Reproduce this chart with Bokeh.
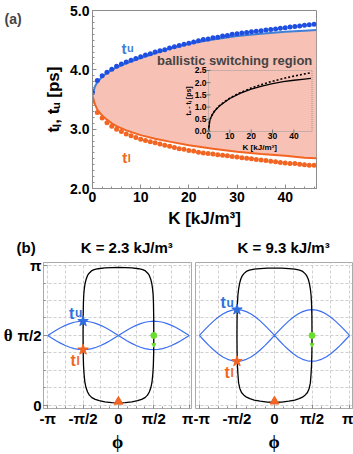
import math
from bokeh.plotting import figure
from bokeh.models import Range1d, FixedTicker, Label, Title
from bokeh.layouts import column, row
from bokeh.embed import file_html
from bokeh.resources import INLINE

PI = math.pi
FONT = "Liberation Sans"
SERIF = "Liberation Serif"

# ---------------- (a) data ----------------
K_line = [0, 0.5, 1, 2, 3, 4, 5, 7, 10, 13, 16, 20, 25, 30, 35, 40, 44, 46.5]
tu_line = [3.57, 3.72, 3.79, 3.88, 3.95, 4.00, 4.04, 4.11, 4.20, 4.28, 4.36, 4.44, 4.51, 4.57, 4.61, 4.64, 4.66, 4.67]
tl_line = [3.56, 3.42, 3.33, 3.23, 3.16, 3.10, 3.05, 2.98, 2.90, 2.84, 2.79, 2.73, 2.67, 2.62, 2.58, 2.55, 2.52, 2.51]

K_dots = list(range(47))
tu_dots = [3.62, 3.82, 3.90, 3.96, 4.01, 4.06, 4.10, 4.13, 4.16, 4.19, 4.22, 4.25, 4.27, 4.30, 4.32, 4.34,
           4.37, 4.39, 4.41, 4.43, 4.45, 4.47, 4.49, 4.51, 4.52, 4.54, 4.55, 4.57, 4.58, 4.60, 4.61, 4.62,
           4.63, 4.64, 4.65, 4.66, 4.67, 4.68, 4.69, 4.70, 4.71, 4.72, 4.73, 4.74, 4.75, 4.76, 4.77]
tl_dots = [3.47, 3.28, 3.19, 3.11, 3.05, 3.00, 2.96, 2.92, 2.89, 2.86, 2.83, 2.81, 2.79, 2.77, 2.75, 2.73,
           2.71, 2.69, 2.67, 2.66, 2.64, 2.63, 2.61, 2.60, 2.59, 2.58, 2.57, 2.56, 2.55, 2.54, 2.53, 2.52,
           2.51, 2.50, 2.49, 2.48, 2.47, 2.46, 2.45, 2.44, 2.43, 2.42, 2.42, 2.41, 2.40, 2.39, 2.39]

K_inset = [0, 0.5, 1, 2, 3, 5, 7, 10, 15, 20, 25, 30, 35, 40, 45, 48]
diff_line = [0, 0.40, 0.55, 0.72, 0.85, 1.03, 1.17, 1.35, 1.57, 1.74, 1.86, 1.96, 2.04, 2.10, 2.15, 2.18]
diff_dots = [0, 0.40, 0.55, 0.73, 0.86, 1.05, 1.19, 1.37, 1.60, 1.78, 1.93, 2.06, 2.17, 2.27, 2.36, 2.41]

a_xticks = [0, 10, 20, 30, 40]
a_yticks = [2, 3, 4, 5]
a_ytick_labels = ["2.0", "3.0", "4.0", "5.0"]
inset_xticks = [0, 10, 20, 30, 40]
inset_yticks = [0, 0.5, 1.0, 1.5, 2.0, 2.5]
inset_ytick_labels = ["0.0", "0.5", "1.0", "1.5", "2.0", "2.5"]

# ---------------- (b) data ----------------
phi_lens = [-3.1416, -2.9452, -2.7489, -2.5525, -2.3562, -2.1598, -1.9635, -1.7671, -1.5708, -1.3744, -1.1781,
            -0.9817, -0.7854, -0.5890, -0.3927, -0.1963, 0.0, 0.1963, 0.3927, 0.5890, 0.7854, 0.9817, 1.1781,
            1.3744, 1.5708, 1.7671, 1.9635, 2.1598, 2.3562, 2.5525, 2.7489, 2.9452, 3.1416]
lensL_up = [1.571, 1.633, 1.694, 1.749, 1.797, 1.837, 1.867, 1.885, 1.891, 1.885, 1.867, 1.837, 1.797, 1.749, 1.694,
            1.633, 1.571, 1.633, 1.694, 1.749, 1.797, 1.837, 1.867, 1.885, 1.891, 1.885, 1.867, 1.837, 1.797, 1.749,
            1.694, 1.633, 1.571]
lensL_lo = [1.571, 1.509, 1.448, 1.393, 1.345, 1.305, 1.275, 1.257, 1.251, 1.257, 1.275, 1.305, 1.345, 1.393, 1.448,
            1.509, 1.571, 1.509, 1.448, 1.393, 1.345, 1.305, 1.275, 1.257, 1.251, 1.257, 1.275, 1.305, 1.345, 1.393,
            1.448, 1.509, 1.571]
lensR_up = [1.571, 1.684, 1.793, 1.893, 1.981, 2.053, 2.107, 2.140, 2.151, 2.140, 2.107, 2.053, 1.981, 1.893, 1.793,
            1.684, 1.571, 1.684, 1.793, 1.893, 1.981, 2.053, 2.107, 2.140, 2.151, 2.140, 2.107, 2.053, 1.981, 1.893,
            1.793, 1.684, 1.571]
lensR_lo = [1.571, 1.458, 1.349, 1.249, 1.161, 1.089, 1.035, 1.002, 0.991, 1.002, 1.035, 1.089, 1.161, 1.249, 1.349,
            1.458, 1.571, 1.458, 1.349, 1.249, 1.161, 1.089, 1.035, 1.002, 0.991, 1.002, 1.035, 1.089, 1.161, 1.249,
            1.349, 1.458, 1.571]

loopL_phi = [-1.57, -1.565, -1.555, -1.54, -1.515, -1.48, -1.43, -1.37, -1.30, -1.20, -1.08, -0.90, -0.60, -0.30, 0.0,
             0.30, 0.60, 0.90, 1.08, 1.20, 1.30, 1.37, 1.43, 1.48, 1.515, 1.54, 1.555, 1.565, 1.57,
             1.565, 1.55, 1.525, 1.49, 1.44, 1.37, 1.29, 1.18, 1.03, 0.85, 0.60, 0.30, 0.0,
             -0.30, -0.60, -0.85, -1.03, -1.18, -1.29, -1.37, -1.44, -1.49, -1.525, -1.55, -1.565, -1.57]
loopL_theta = [1.57, 2.0, 2.3, 2.48, 2.62, 2.74, 2.84, 2.92, 2.97, 3.02, 3.05, 3.07, 3.088, 3.097, 3.10,
               3.097, 3.088, 3.07, 3.05, 3.02, 2.97, 2.92, 2.84, 2.74, 2.62, 2.48, 2.3, 2.0, 1.57,
               1.2, 0.9, 0.7, 0.52, 0.40, 0.30, 0.23, 0.175, 0.135, 0.105, 0.08, 0.06, 0.055,
               0.06, 0.08, 0.105, 0.135, 0.175, 0.23, 0.30, 0.40, 0.52, 0.7, 0.9, 1.2, 1.57]
loopR_phi = [-1.57, -1.565, -1.55, -1.53, -1.50, -1.46, -1.41, -1.35, -1.28, -1.18, -1.05, -0.85, -0.60, -0.30, 0.0,
             0.30, 0.60, 0.85, 1.05, 1.18, 1.28, 1.35, 1.41, 1.46, 1.50, 1.53, 1.55, 1.565, 1.57,
             1.565, 1.55, 1.53, 1.50, 1.45, 1.38, 1.29, 1.17, 1.03, 0.85, 0.60, 0.30, 0.0,
             -0.30, -0.60, -0.85, -1.03, -1.17, -1.29, -1.38, -1.45, -1.50, -1.53, -1.55, -1.565, -1.57]
loopR_theta = [1.57, 2.0, 2.3, 2.48, 2.62, 2.74, 2.84, 2.91, 2.96, 3.01, 3.04, 3.06, 3.073, 3.082, 3.085,
               3.082, 3.073, 3.06, 3.04, 3.01, 2.96, 2.91, 2.84, 2.74, 2.62, 2.48, 2.3, 2.0, 1.57,
               1.2, 0.9, 0.7, 0.50, 0.38, 0.29, 0.235, 0.185, 0.15, 0.12, 0.095, 0.075, 0.07,
               0.075, 0.095, 0.12, 0.15, 0.185, 0.235, 0.29, 0.38, 0.50, 0.7, 0.9, 1.2, 1.57]

starU = {"L": (-1.5708, 1.891), "R": (-1.5708, 2.151)}
starL = {"L": (-1.5708, 1.251), "R": (-1.5708, 0.991)}
triO = {"L": (0.0, 0.085), "R": (0.0, 0.09)}
greenC = (1.5708, 1.5708)
greenT = (1.5708, 1.36)

phi_ticks = [-PI, -PI / 2, 0, PI / 2, PI]
phi_tick_labels = ["-π", "-π/2", "0", "π/2", "π"]
theta_ticks = [0, PI / 2, PI]
theta_tick_labels = ["0", "π/2", "π"]
phi_grid = [k * PI / 4 for k in range(-4, 5)]
theta_grid = [k * PI / 8 for k in range(0, 9)]
phi_minor = [k * PI / 8 for k in range(-8, 9)]
theta_minor = [k * PI / 8 for k in range(0, 9)]

BLUE_DOT = "#1f4fe0"
BLUE_LINE = "#3f7fd8"
ORANGE = "#f26522"
SALMON = "#f8c1b5"
BLUE_LENS = "#3b6ff0"
GREEN = "#6ade2e"
FRAME = "#8c8c8c"


def style_axis(ax, size="14px"):
    ax.axis_line_color = FRAME
    ax.major_tick_line_color = FRAME
    ax.minor_tick_line_color = FRAME
    ax.major_tick_in = 4
    ax.major_tick_out = 0
    ax.minor_tick_in = 2
    ax.minor_tick_out = 0
    ax.major_label_text_font = FONT
    ax.major_label_text_font_style = "bold"
    ax.major_label_text_font_size = size
    ax.major_label_text_color = "black"


def sub_label(p, x, y, sub, color, size=15, subsize=11, tw=5.5):
    p.add_layout(Label(x=x, y=y, text="t", text_color=color, text_font=FONT, text_font_style="bold",
                       text_font_size=f"{size}px", text_baseline="alphabetic"))
    p.add_layout(Label(x=x, y=y, x_offset=tw, text=sub, text_color=color, text_font=FONT,
                       text_font_style="bold", text_font_size=f"{subsize}px", text_baseline="alphabetic"))


# ---------------- "(a)" tag ----------------
ptag = figure(width=28, height=230, x_range=Range1d(0, 1), y_range=Range1d(0, 1),
              output_backend="svg", toolbar_location=None, x_axis_location=None, y_axis_location=None,
              min_border=0)
ptag.outline_line_color = None
ptag.grid.visible = False
ptag.add_layout(Label(x=0.143, y=0.952, text="(a)", text_baseline="middle",
                      text_font=FONT, text_font_style="bold", text_font_size="14px"))

# ---------------- panel (a) ----------------
pa = figure(width=325, height=230, x_range=Range1d(0, 46.5), y_range=Range1d(2, 5),
            output_backend="svg", toolbar_location=None,
            min_border_left=64, min_border_right=37, min_border_top=10, min_border_bottom=42)
pa.grid.visible = False
pa.outline_line_color = FRAME

pa.varea(x=K_line, y1=tl_line, y2=tu_line, fill_color=SALMON)

ins = pa.subplot(x_source=Range1d(0, 48.5), y_source=Range1d(0, 2.5),
                 x_target=Range1d(24.08, 45.57), y_target=Range1d(2.961, 3.989))
ins.quad(left=[0], right=[48.5], bottom=[0], top=[2.5], fill_color=None, line_color="#999999",
         line_dash="1 1", line_width=1)
ins.line(x=K_inset, y=diff_line, line_color="black", line_width=1.3)
ins.line(x=K_inset, y=diff_dots, line_color="black", line_width=1.6, line_dash="2 2")
ins.scatter(x=inset_xticks, y=[0] * len(inset_xticks), marker="dash", angle=PI / 2, size=4,
            line_color="#777777")
ins.scatter(x=[0] * len(inset_yticks), y=inset_yticks, marker="dash", size=4, line_color="#777777")
ins.text(x=inset_xticks, y=[0] * len(inset_xticks), text=[str(v) for v in inset_xticks], y_offset=2,
         text_align="center", text_baseline="top", text_font_size="8.5px", text_font_style="bold",
         text_color="black", text_font={"value": FONT})
ins.text(x=[0] * len(inset_yticks), y=inset_yticks, text=inset_ytick_labels, x_offset=-2,
         text_align="right", text_baseline="middle", text_font_size="8.5px", text_font_style="bold",
         text_color="black", text_font={"value": FONT})
ins.text(x=[24], y=[0], text=["K [kJ/m³]"], y_offset=12, text_align="center", text_baseline="top",
         text_font_size="8px", text_font_style="bold", text_color="black", text_font={"value": FONT})
ins.text(x=[0], y=[1.25], text=["tᵤ - tₗ [ps]"], x_offset=-20, angle=PI / 2, text_align="center",
         text_baseline="middle", text_font_size="7px", text_font_style="bold", text_color="black",
         text_font={"value": FONT})

pa.line(x=K_line, y=tu_line, line_color=BLUE_LINE, line_width=2)
pa.line(x=K_line, y=tl_line, line_color=ORANGE, line_width=2)
pa.scatter(x=K_dots, y=tu_dots, size=5, fill_color=BLUE_DOT, line_color=None)
pa.scatter(x=K_dots, y=tl_dots, size=5, fill_color=ORANGE, line_color=None)

pa.add_layout(Label(x=29.5, y=4.157, text="ballistic switching region", text_align="center",
                    text_baseline="middle", text_font=FONT, text_font_style="bold", text_font_size="13px"))
sub_label(pa, 6.02, 4.36, "u", BLUE_LINE)
sub_label(pa, 6.17, 2.52, "l", ORANGE)

a_xminor = list(range(0, 48, 2))
a_yminor = [2 + k / 10 for k in range(31)]
pa.xaxis.ticker = FixedTicker(ticks=a_xticks, minor_ticks=a_xminor)
pa.yaxis.ticker = FixedTicker(ticks=a_yticks, minor_ticks=a_yminor)
pa.yaxis.major_label_overrides = dict(zip(a_yticks, a_ytick_labels))
for ax in (pa.xaxis[0], pa.yaxis[0]):
    style_axis(ax)
    ax.major_label_standoff = 3
    ax.axis_label_text_font = FONT
    ax.axis_label_text_font_style = "bold"
    ax.axis_label_text_font_size = "17px"
    ax.axis_label_text_color = "black"
pa.xaxis.axis_label = "K [kJ/m³]"
pa.yaxis.axis_label = "tₗ, tᵤ [ps]"
pa.xaxis.axis_label_standoff = 4
pa.yaxis.axis_label_standoff = 4


# ---------------- panel (b) ----------------
def make_panel(key, xr, width, mbl, mbr, lens_up, lens_lo, loop_phi, loop_theta, show_y, title, title_off):
    p = figure(width=width, height=224, x_range=Range1d(*xr), y_range=Range1d(-0.07, 3.21),
               output_backend="svg", toolbar_location=None,
               min_border_left=mbl, min_border_right=mbr, min_border_top=32, min_border_bottom=36)
    p.add_layout(Title(text=title, align="left", offset=title_off, standoff=13, vertical_align="bottom",
                       text_font=FONT, text_font_style="bold", text_font_size="15px",
                       text_color="black"), "above")
    p.outline_line_color = "#aaaaaa"
    p.xgrid.ticker = FixedTicker(ticks=phi_grid)
    p.ygrid.ticker = FixedTicker(ticks=theta_grid)
    p.grid.grid_line_color = "#cfcfcf"
    p.grid.grid_line_dash = "3 2"
    p.grid.grid_line_width = 1

    p.line(x=phi_lens, y=lens_up, line_color=BLUE_LENS, line_width=1.2)
    p.line(x=phi_lens, y=lens_lo, line_color=BLUE_LENS, line_width=1.2)
    p.line(x=loop_phi, y=loop_theta, line_color="black", line_width=1.3)

    p.scatter(x=[starU[key][0]], y=[starU[key][1]], marker="star", size=11, fill_color="#2f6fe0",
              line_color="#2f6fe0")
    p.scatter(x=[starL[key][0]], y=[starL[key][1]], marker="star", size=11, fill_color=ORANGE,
              line_color=ORANGE)
    p.scatter(x=[triO[key][0]], y=[triO[key][1]], marker="triangle", size=9, fill_color=ORANGE,
              line_color=ORANGE)
    p.scatter(x=[greenC[0]], y=[greenC[1]], marker="circle", size=6, fill_color=GREEN, line_color=GREEN)
    p.scatter(x=[greenT[0]], y=[greenT[1]], marker="inverted_triangle", size=4, fill_color=GREEN,
              line_color=GREEN)

    p.xaxis.ticker = FixedTicker(ticks=phi_ticks, minor_ticks=phi_minor)
    p.xaxis.major_label_overrides = dict(zip(phi_ticks, phi_tick_labels))
    style_axis(p.xaxis[0], "15px")
    p.xaxis.axis_line_color = "#aaaaaa"
    p.xaxis.major_label_standoff = 1
    p.xaxis.axis_label = "ϕ"
    p.xaxis.axis_label_text_font = SERIF
    p.xaxis.axis_label_text_font_style = "bold"
    p.xaxis.axis_label_text_font_size = "18px"
    p.xaxis.axis_label_text_color = "black"
    p.xaxis.axis_label_standoff = 2
    if show_y:
        p.yaxis.ticker = FixedTicker(ticks=theta_ticks, minor_ticks=theta_minor)
        p.yaxis.major_label_overrides = dict(zip(theta_ticks, theta_tick_labels))
        style_axis(p.yaxis[0], "15px")
        p.yaxis.axis_line_color = "#aaaaaa"
        p.yaxis.major_label_standoff = 2
        p.yaxis.axis_label = "θ"
        p.yaxis.axis_label_orientation = "horizontal"
        p.yaxis.axis_label_text_font = SERIF
        p.yaxis.axis_label_text_font_style = "bold"
        p.yaxis.axis_label_text_font_size = "17px"
        p.yaxis.axis_label_text_color = "black"
        p.yaxis.axis_label_standoff = 2
    else:
        p.yaxis.visible = False
    return p


EM = "\u2003"
pL = make_panel("L", (-3.326, 3.243), 193, 34, 2, lensL_up, lensL_lo, loopL_phi, loopL_theta, True,
                "(b)" + EM * 3 + "K = 2.3 kJ/m³", -27)
pR = make_panel("R", (-3.305, 3.264), 160, 2, 1, lensR_up, lensR_lo, loopR_phi, loopR_theta, False,
                "K = 9.3 kJ/m³", 42)

sub_label(pL, -2.197, 2.075, "u", "#2f6fe0", size=16, subsize=12, tw=6)
sub_label(pL, -2.125, 1.002, "l", ORANGE, size=16, subsize=12, tw=6)
sub_label(pR, -2.26, 2.306, "u", "#2f6fe0", size=16, subsize=12, tw=6)
sub_label(pR, -2.09, 0.729, "l", ORANGE, size=16, subsize=12, tw=6)

layout = column(row(ptag, pa, spacing=0), row(pL, pR, spacing=0), spacing=0)
open("out.html", "w").write(file_html(layout, INLINE))
